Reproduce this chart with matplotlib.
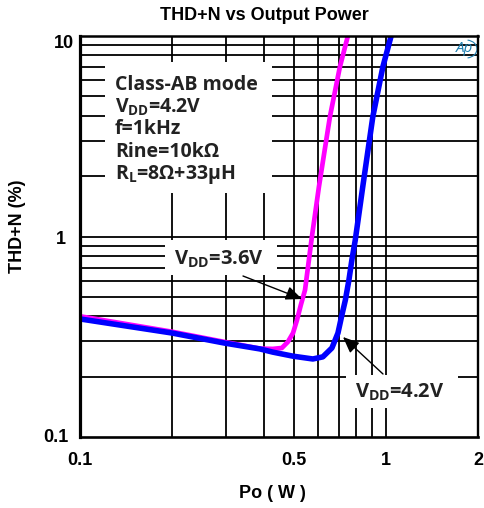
import matplotlib
matplotlib.use("Agg")
import matplotlib.pyplot as plt
from matplotlib.patches import Rectangle, Arc

plt.rcParams['font.family'] = ['Open Sans', 'DejaVu Sans']
plt.rcParams['mathtext.fontset'] = 'custom'
plt.rcParams['mathtext.bf'] = 'Open Sans:bold'
plt.rcParams['mathtext.rm'] = 'Open Sans:bold'

po_36 = [0.1, 0.2, 0.3, 0.387, 0.427, 0.457, 0.478, 0.497, 0.512, 0.527, 0.544, 0.573, 0.604, 0.656, 0.707, 0.751]
thd_36 = [0.40, 0.335, 0.297, 0.276, 0.275, 0.278, 0.298, 0.33, 0.383, 0.455, 0.541, 1.0, 1.77, 3.95, 7.0, 10.0]
po_42 = [0.1, 0.2, 0.297, 0.387, 0.427, 0.497, 0.577, 0.622, 0.666, 0.697, 0.718, 0.737, 0.757, 0.774, 0.794, 0.84, 0.906, 0.977, 1.04]
thd_42 = [0.388, 0.33, 0.294, 0.275, 0.265, 0.253, 0.245, 0.251, 0.278, 0.33, 0.406, 0.482, 0.607, 0.764, 0.96, 1.77, 3.95, 7.0, 10.0]

x_ticks = [0.1, 0.5, 1, 2]
x_tick_labels = ['0.1', '0.5', '1', '2']
x_grid = [0.2, 0.3, 0.4, 0.5, 0.6, 0.7, 0.8, 0.9, 1]
y_ticks = [0.1, 1, 10]
y_tick_labels = ['0.1', '1', '10']
y_grid = [0.2, 0.3, 0.4, 0.5, 0.6, 0.7, 0.8, 0.9, 1, 2, 3, 4, 5, 6, 7, 8, 9]

W, H = 485, 508
L, R, T, B = 80, 478, 36, 437
bold_sans = dict(family='Liberation Sans', fontweight='bold')

def px(x, y):
    # image pixels to axes fraction
    return (x - L) / (R - L), (B - y) / (B - T)

def px_text(x, y, s, **kw):
    ax.text(*px(x, y), s, transform=ax.transAxes, clip_on=False, **kw)

fig = plt.figure(figsize=(W / 100, H / 100), dpi=100)
ax = fig.add_axes([L / W, 1 - B / H, (R - L) / W, (B - T) / H])
ax.set_xscale('log')
ax.set_yscale('log')
ax.set_xlim(0.1, 2)
ax.set_ylim(0.1, 10)

ax.vlines(x_grid, 0.1, 10, color='black', lw=1.3, zorder=1)
ax.hlines(y_grid, 0.1, 2, color='black', lw=1.3, zorder=1)

# white boxes hide the grid behind the labels
for x0, y0, x1, y1 in [(105, 62, 272, 193), (165, 240, 277, 275), (346, 375, 458, 408)]:
    a = px(x0, y1)
    b = px(x1, y0)
    ax.add_patch(Rectangle(a, b[0] - a[0], b[1] - a[1], transform=ax.transAxes,
                           facecolor='white', edgecolor='none', zorder=2))

ax.plot(po_36, thd_36, color='#ff00ff', lw=3.4, zorder=3, solid_capstyle='round')
ax.plot(po_42, thd_42, color='#0000ff', lw=4, zorder=4, solid_capstyle='round')

ax.minorticks_off()
ax.set_xticks(x_ticks, x_tick_labels)
ax.set_yticks(y_ticks, ['', '', ''])
ax.tick_params(axis='both', length=0)
ax.tick_params(axis='x', labelsize=13, pad=11)
for lab in ax.get_xticklabels():
    lab.set(**bold_sans)

# y labels sit at uneven offsets in the original
for val, lab, right, dy in zip(y_ticks, y_tick_labels, [69, 66, 74], [0, -2.5, -7]):
    ax.annotate(lab, (0, val), xycoords=('axes fraction', 'data'),
                xytext=((right - L) * 0.72, dy * 0.72), textcoords='offset points',
                ha='right', va='center', fontsize=13, annotation_clip=False, **bold_sans)

for side, lw in [('left', 2.3), ('right', 1.7), ('top', 1.8), ('bottom', 1.9)]:
    ax.spines[side].set_linewidth(lw)
    ax.spines[side].set_zorder(6)

fig.text(264 / W, 1 - 15 / H, 'THD+N vs Output Power', ha='center', va='center', fontsize=13, **bold_sans)
fig.text(272 / W, 1 - 494 / H, 'Po ( W )', ha='center', va='center', fontsize=13, **bold_sans)
fig.text(18 / W, 1 - 226 / H, 'THD+N (%)', ha='center', va='center', rotation=90, fontsize=13, **bold_sans)

info = ['Class-AB mode', r'V$_{\mathbf{DD}}$=4.2V', 'f=1kHz', 'Rine=10kΩ', r'R$_{\mathbf{L}}$=8Ω+33μH']
for i, s in enumerate(info):
    px_text(115, 84.5 + i * 22.5, s, ha='left', va='center', fontsize=14, fontweight='bold',
            color='#222222', zorder=5)

px_text(219, 259, r'V$_{\mathbf{DD}}$=3.6V', ha='center', va='center', fontsize=14.5,
        fontweight='bold', color='#222222', zorder=5)
px_text(400, 392, r'V$_{\mathbf{DD}}$=4.2V', ha='center', va='center', fontsize=14.5,
        fontweight='bold', color='#222222', zorder=5)

for tip, tail in [((302, 299), (243, 276)), ((343, 337), (383, 374))]:
    ax.annotate('', xy=px(*tip), xytext=px(*tail), xycoords='axes fraction', textcoords='axes fraction',
                arrowprops=dict(arrowstyle='-|>,head_length=0.7,head_width=0.3', color='black', lw=1,
                                mutation_scale=14, shrinkA=0, shrinkB=0), zorder=7)

px_text(464, 48, 'Ap', ha='center', va='center', fontsize=11, style='italic',
        color='#1f7fb0', zorder=5)
ax.add_patch(Arc(px(466, 49), 22 / (R - L), 18 / (B - T), theta1=-80, theta2=80,
                 transform=ax.transAxes, color='#1f7fb0', lw=0.8, zorder=5))

fig.savefig('out.png', dpi=100)
